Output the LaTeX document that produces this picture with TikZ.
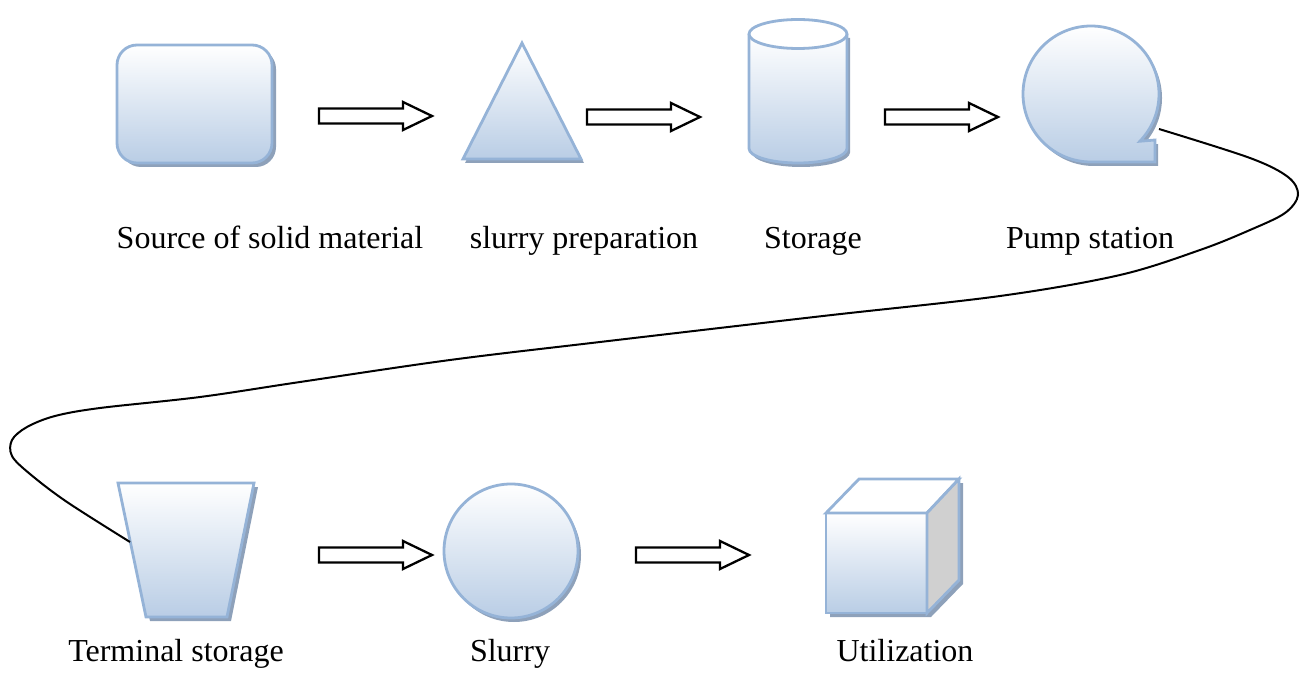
\documentclass[tikz,border=0pt]{standalone}
\usepackage{fontspec}
\setmainfont{Liberation Serif}
\definecolor{bord}{HTML}{95B3D7}
\definecolor{fillb}{HTML}{B9CDE5}
\definecolor{shad}{HTML}{8EA1BA}
\definecolor{side}{HTML}{D0D0D0}
\tikzset{
  shp/.style={draw=bord, line width=2.8, top color=white, bottom color=fillb, line join=miter},
  shd/.style={fill=shad, draw=none},
  lbl/.style={font=\fontsize{32}{38}\selectfont, anchor=base, inner sep=0},
  barrow/.style={draw=black, line width=2.3, fill=white, line join=miter},
  blockarr/.pic={\draw[barrow] (0,-7.5) -- (84,-7.5) -- (84,-14) -- (113,0) -- (84,14) -- (84,7.5) -- (0,7.5) -- cycle;},
  conn/.style={draw=black, line width=2}
}
\begin{document}
\begin{tikzpicture}[x=1pt,y=-1pt]
\useasboundingbox (0,0) rectangle (1309,695);
% Source of solid material: rounded rectangle
\fill[shd, rounded corners=20] (121,49) rectangle (276,167);
\path[shp, rounded corners=20] (117,45) rectangle (272,163);
% slurry preparation: triangle
\fill[shd] (465,163) -- (524,47) -- (584,163) -- cycle;
\path[shp] (463,159) -- (522,43) -- (581,159) -- cycle;
% Storage: cylinder
\begin{scope}[shift={(3,4)}]
\fill[shd] (749,34) -- (749,148.5) arc[start angle=180, end angle=0, x radius=49, y radius=14.5] -- (847,34) -- cycle;
\end{scope}
\path[shp] (749,34) -- (749,148.5) arc[start angle=180, end angle=0, x radius=49, y radius=14.5] -- (847,34);
\draw[bord, line width=2.8, fill=white] (798,34) ellipse[x radius=49, y radius=14.5];
% Pump station
\begin{scope}[shift={(3,4)}]
\fill[shd] (1091,162) arc[start angle=90, end angle=404, radius=68] -- (1155,140) -- (1155,162) -- cycle;
\end{scope}
\path[shp] (1091,162) arc[start angle=90, end angle=404, radius=68] -- (1155,140) -- (1155,162) -- cycle;
% Terminal storage: trapezoid
\fill[shd] (122,487) -- (258,487) -- (231,621) -- (150,621) -- cycle;
\path[shp] (118,483) -- (254,483) -- (227,617) -- (146,617) -- cycle;
% Slurry: circle
\fill[shd] (514,555) circle[radius=67];
\path[shp] (511,551) circle[radius=67];
% Utilization: cube
\fill[shd] (830,517) -- (863,483) -- (963,483) -- (963,584) -- (931,617) -- (830,617) -- cycle;
\path[shp] (826,513) rectangle (927,613);
\draw[bord, line width=2.8, fill=white, line join=miter] (826,513) -- (859,479) -- (959,479) -- (927,513) -- cycle;
\draw[bord, line width=2.8, fill=side, line join=miter] (927,513) -- (959,479) -- (959,580) -- (927,613) -- cycle;
% block arrows
\pic (a1) at (319,116) {blockarr};
\pic (a2) at (587,117) {blockarr};
\pic (a3) at (885,117) {blockarr};
\pic (a4) at (319,555) {blockarr};
\pic (a5) at (636,555) {blockarr};
% labels
\node[lbl] (l1) at (270,248) {Source of solid material};
\node[lbl] (l2) at (584,248) {slurry preparation};
\node[lbl] (l3) at (813,248) {Storage};
\node[lbl] (l4) at (1090,248) {Pump station};
\node[lbl] (l5) at (176,661) {Terminal storage};
\node[lbl] (l6) at (510,661) {Slurry};
\node[lbl] (l7) at (905,661) {Utilization};
% connector
\coordinate (pumpout) at (1159,129);
\coordinate (termin) at (130,542);
\draw[conn] plot[smooth, tension=0.55] coordinates {(pumpout) (1250,158) (1288,177) (1298,195) (1285,213) (1250,230) (1200,250) (1120,275) (1000,296) (823,316) (600,342) (450,360) (300,382) (200,397) (100,408) (55,416) (27,427) (12,440) (12,456) (30,474) (67,502) (termin)};
\end{tikzpicture}
\end{document}
